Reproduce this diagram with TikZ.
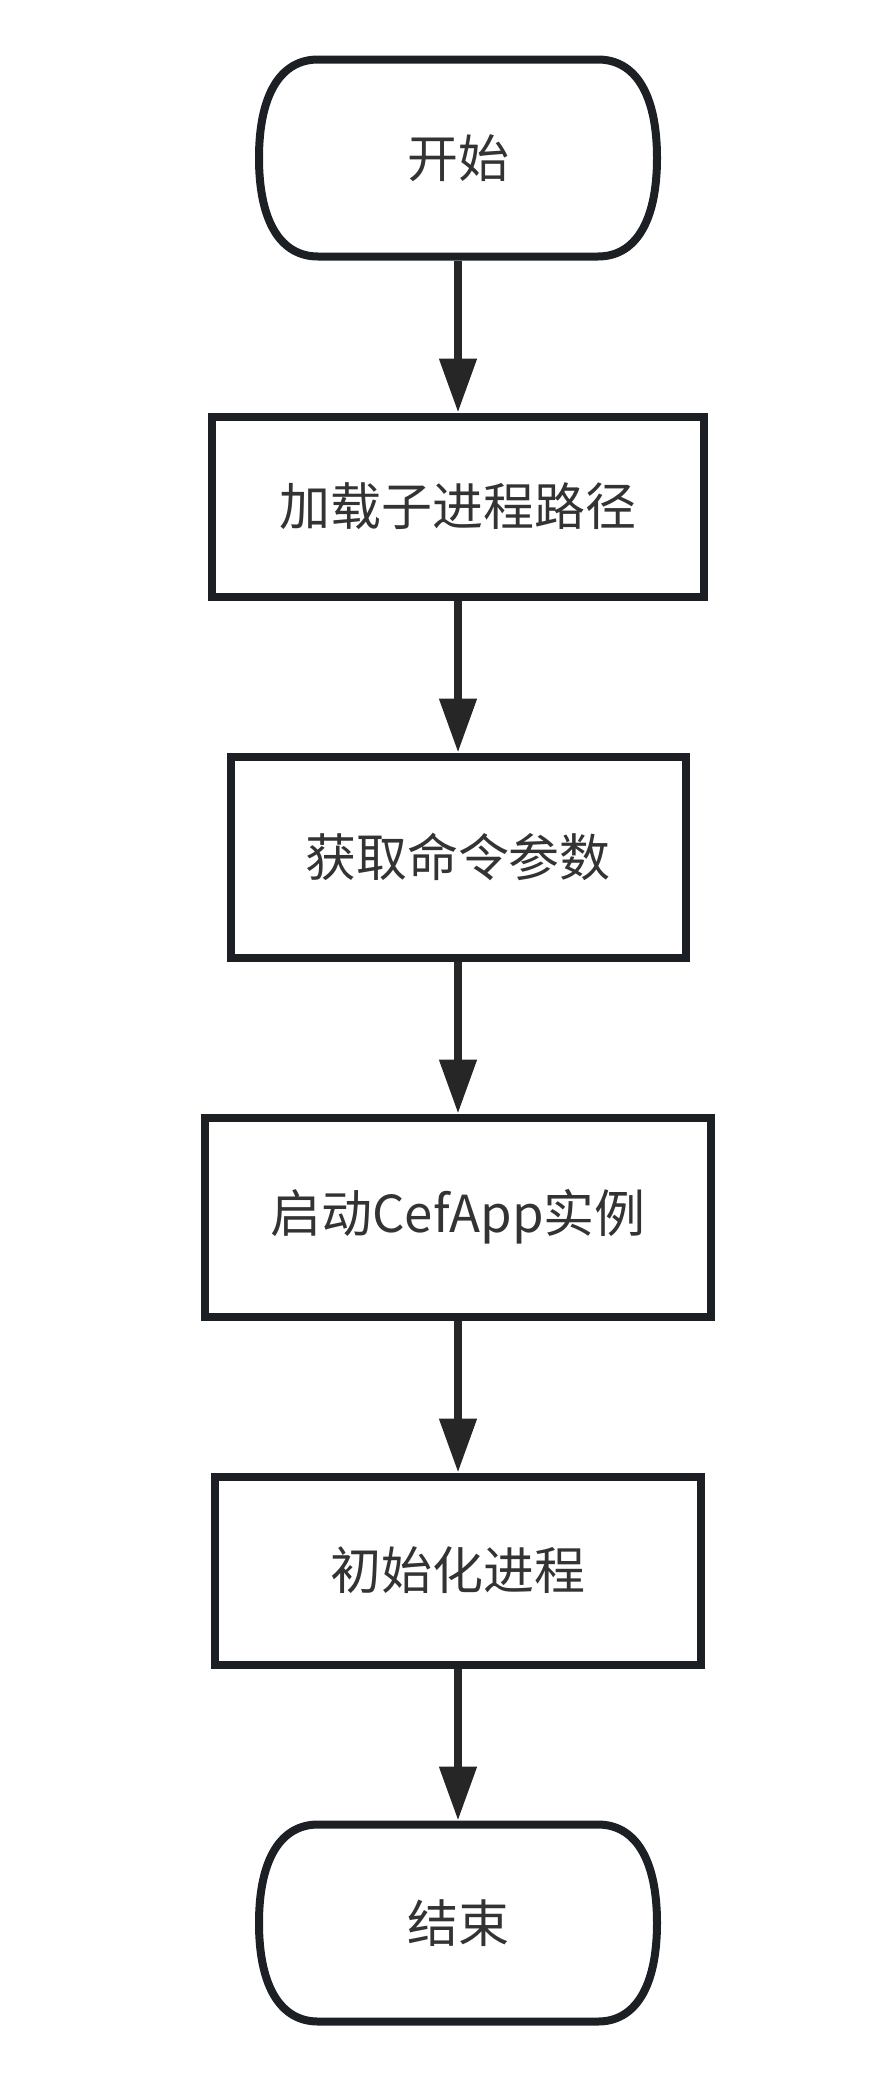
\documentclass[tikz,border=0pt]{standalone}
\usepackage{fontspec}
\newfontfamily\cjk{Noto Sans CJK SC}
\usetikzlibrary{positioning,arrows.meta}
\definecolor{boxline}{HTML}{1C1F24}
\definecolor{arrowline}{HTML}{262626}
\definecolor{labeltext}{HTML}{333333}
% rounded start/end outline with bulging sides
\newcommand{\terminal}[1]{%
  \draw[draw=boxline, line join=round] ([shift={(-2.8,1.97)}]#1.center) -- ([shift={(2.8,1.97)}]#1.center)
    .. controls ([shift={(3.53,1.97)}]#1.center) and ([shift={(3.98,1.3)}]#1.center) .. ([shift={(3.98,0)}]#1.center)
    .. controls ([shift={(3.98,-1.3)}]#1.center) and ([shift={(3.53,-1.97)}]#1.center) .. ([shift={(2.8,-1.97)}]#1.center)
    -- ([shift={(-2.8,-1.97)}]#1.center)
    .. controls ([shift={(-3.53,-1.97)}]#1.center) and ([shift={(-3.98,-1.3)}]#1.center) .. ([shift={(-3.98,0)}]#1.center)
    .. controls ([shift={(-3.98,1.3)}]#1.center) and ([shift={(-3.53,1.97)}]#1.center) .. ([shift={(-2.8,1.97)}]#1.center) -- cycle;}

\begin{document}
\begin{tikzpicture}[node distance={3.04cm}, line width=0.16cm,
    main/.style = {draw=boxline, rectangle, text=labeltext, font=\cjk\fontsize{29pt}{34pt}\selectfont},
    term/.style = {main, draw=none, minimum width=7.96cm, minimum height=3.94cm},
    flow/.style = {draw=arrowline, line width=0.16cm, -{Triangle[width=0.72cm, length=1.08cm]}}]
    \useasboundingbox (0,0) rectangle (17.52,-41.68);
        \node[term] (1) at (9.16,-3.16) {开始};
        \node[main, minimum width=9.84cm, minimum height=3.6cm] (2) [below=of 1] {加载子进程路径};
        \node[main, minimum width=9.1cm, minimum height=4.02cm] (3) [below=of 2] {获取命令参数};
        \node[main, minimum width=10.12cm, minimum height=3.98cm] (4) [below=of 3] {启动CefApp实例};
        \node[main, minimum width=9.72cm, minimum height=3.76cm] (5) [below=of 4] {初始化进程};
        \node[term] (6) [below=of 5] {结束};
        \terminal{1}
        \terminal{6}
        \draw[flow] (1) -- (2);
        \draw[flow] (2) -- (3);
        \draw[flow] (3) -- (4);
        \draw[flow] (4) -- (5);
        \draw[flow] (5) -- (6);
    \end{tikzpicture}
\end{document}
